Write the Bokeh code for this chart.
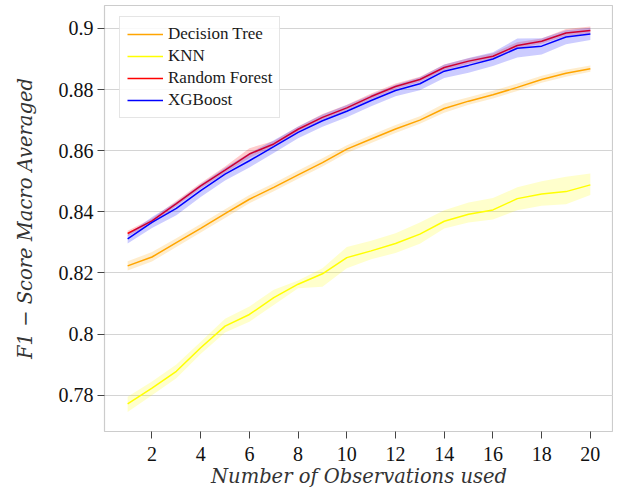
from bokeh.plotting import figure
from bokeh.models import FixedTicker, Range1d, Legend, LegendItem
from bokeh.embed import file_html
from bokeh.resources import INLINE

obs = list(range(1, 21))

dt = [0.8223, 0.8252, 0.8299, 0.8346, 0.8394, 0.8441, 0.8480, 0.8521, 0.8561, 0.8605,
      0.8638, 0.8671, 0.8700, 0.8738, 0.8762, 0.8783, 0.8807, 0.8833, 0.8853, 0.8868]
dt_lo = [0.8208, 0.8237, 0.8285, 0.8332, 0.8380, 0.8428, 0.8467, 0.8508, 0.8548, 0.8592,
         0.8625, 0.8658, 0.8688, 0.8724, 0.8750, 0.8771, 0.8795, 0.8822, 0.8842, 0.8858]
dt_hi = [0.8238, 0.8268, 0.8313, 0.8360, 0.8408, 0.8455, 0.8493, 0.8535, 0.8575, 0.8618,
         0.8651, 0.8684, 0.8713, 0.8754, 0.8775, 0.8796, 0.8820, 0.8845, 0.8865, 0.8879]

knn = [0.7771, 0.7823, 0.7878, 0.7955, 0.8026, 0.8064, 0.8119, 0.8163, 0.8197, 0.8250,
       0.8272, 0.8296, 0.8327, 0.8369, 0.8392, 0.8406, 0.8443, 0.8458, 0.8466, 0.8488]
knn_lo = [0.7745, 0.7800, 0.7855, 0.7935, 0.8005, 0.8040, 0.8095, 0.8150, 0.8155, 0.8215,
          0.8245, 0.8265, 0.8295, 0.8345, 0.8365, 0.8375, 0.8405, 0.8420, 0.8425, 0.8455]
knn_hi = [0.7795, 0.7845, 0.7900, 0.7975, 0.8050, 0.8090, 0.8145, 0.8175, 0.8215, 0.8285,
          0.8305, 0.8330, 0.8365, 0.8405, 0.8430, 0.8445, 0.8480, 0.8500, 0.8515, 0.8525]

rf = [0.8329, 0.8370, 0.8427, 0.8485, 0.8536, 0.8589, 0.8622, 0.8670, 0.8709, 0.8740,
      0.8777, 0.8810, 0.8833, 0.8872, 0.8893, 0.8909, 0.8944, 0.8958, 0.8985, 0.8993]
rf_lo = [0.8320, 0.8362, 0.8419, 0.8476, 0.8527, 0.8576, 0.8614, 0.8662, 0.8701, 0.8732,
         0.8768, 0.8801, 0.8825, 0.8863, 0.8884, 0.8900, 0.8935, 0.8950, 0.8975, 0.8983]
rf_hi = [0.8338, 0.8378, 0.8436, 0.8494, 0.8548, 0.8608, 0.8632, 0.8679, 0.8720, 0.8750,
         0.8787, 0.8820, 0.8842, 0.8882, 0.8902, 0.8919, 0.8955, 0.8967, 0.8998, 0.9006]

xgb = [0.8311, 0.8365, 0.8411, 0.8469, 0.8523, 0.8567, 0.8613, 0.8660, 0.8698, 0.8729,
       0.8764, 0.8797, 0.8819, 0.8860, 0.8879, 0.8900, 0.8935, 0.8942, 0.8972, 0.8982]
xgb_lo = [0.8296, 0.8347, 0.8389, 0.8448, 0.8502, 0.8545, 0.8592, 0.8641, 0.8678, 0.8709,
          0.8745, 0.8778, 0.8798, 0.8838, 0.8855, 0.8877, 0.8905, 0.8915, 0.8948, 0.8962]
xgb_hi = [0.8326, 0.8383, 0.8432, 0.8490, 0.8544, 0.8592, 0.8634, 0.8679, 0.8718, 0.8749,
          0.8783, 0.8816, 0.8840, 0.8882, 0.8903, 0.8922, 0.8967, 0.8968, 0.8994, 0.9002]

series_names = ["Decision Tree", "KNN", "Random Forest", "XGBoost"]
series_colors = ["#FFA500", "#FFFF00", "#FF0000", "#0000FF"]

xticks = [2, 4, 6, 8, 10, 12, 14, 16, 18, 20]
yticks = [0.78, 0.80, 0.82, 0.84, 0.86, 0.88, 0.90]
ytick_labels = ["0.78", "0.8", "0.82", "0.84", "0.86", "0.88", "0.9"]

x_label = "Number of Observations used"
y_label = "F1 \u2212 Score Macro Averaged"

p = figure(width=613, height=495, output_backend="svg", toolbar_location=None,
           x_range=Range1d(0.05, 20.95), y_range=Range1d(0.7681, 0.9075),
           min_border_left=104, min_border_right=0, min_border_top=5, min_border_bottom=64)

p.background_fill_color = "white"
p.border_fill_color = "white"
p.outline_line_color = "#cccccc"
p.outline_line_width = 1.2

data = [(dt, dt_lo, dt_hi), (knn, knn_lo, knn_hi), (rf, rf_lo, rf_hi), (xgb, xgb_lo, xgb_hi)]
items = []
for (mean, lo, hi), name, col in zip(data, series_names, series_colors):
    p.varea(x=obs, y1=lo, y2=hi, fill_color=col, fill_alpha=0.2)
    r = p.line(x=obs, y=mean, line_color=col, line_width=1.5)
    items.append(LegendItem(label=name, renderers=[r]))

legend = Legend(items=items, location=(15, 313))
legend.label_text_font = "Liberation Serif"
legend.label_text_font_size = "17px"
legend.label_text_color = "#1a1a1a"
legend.label_height = 20
legend.glyph_height = 20
legend.glyph_width = 36
legend.label_standoff = 5
legend.spacing = 2
legend.padding = 7
legend.margin = 0
legend.border_line_color = "#cccccc"
legend.border_line_width = 1
legend.background_fill_color = "white"
legend.background_fill_alpha = 0.85
p.add_layout(legend)

p.xgrid.grid_line_color = None
p.ygrid.grid_line_color = "#d4d4d4"
p.ygrid.grid_line_width = 1.1

p.xaxis.ticker = FixedTicker(ticks=xticks)
p.yaxis.ticker = FixedTicker(ticks=yticks)
p.yaxis.major_label_overrides = {t: l for t, l in zip(yticks, ytick_labels)}

for ax in (p.xaxis[0], p.yaxis[0]):
    ax.axis_line_color = None
    ax.major_tick_line_color = "#444444"
    ax.major_tick_line_width = 1
    ax.major_tick_in = 0
    ax.major_tick_out = 7
    ax.minor_tick_line_color = None
    ax.major_label_text_font = "Liberation Serif"
    ax.major_label_text_font_size = "20px"
    ax.major_label_text_color = "#111111"
    ax.axis_label_text_font = "DejaVu Serif"
    ax.axis_label_text_font_style = "italic"
    ax.axis_label_text_font_size = "19.5px"
    ax.axis_label_text_color = "#333333"

p.xaxis.major_label_standoff = 8
p.xaxis.axis_label_standoff = 1
p.yaxis.major_label_standoff = 4
p.yaxis.axis_label_standoff = 19
p.xaxis.axis_label = x_label
p.yaxis.axis_label = y_label

open("out.html", "w").write(file_html(p, INLINE))
